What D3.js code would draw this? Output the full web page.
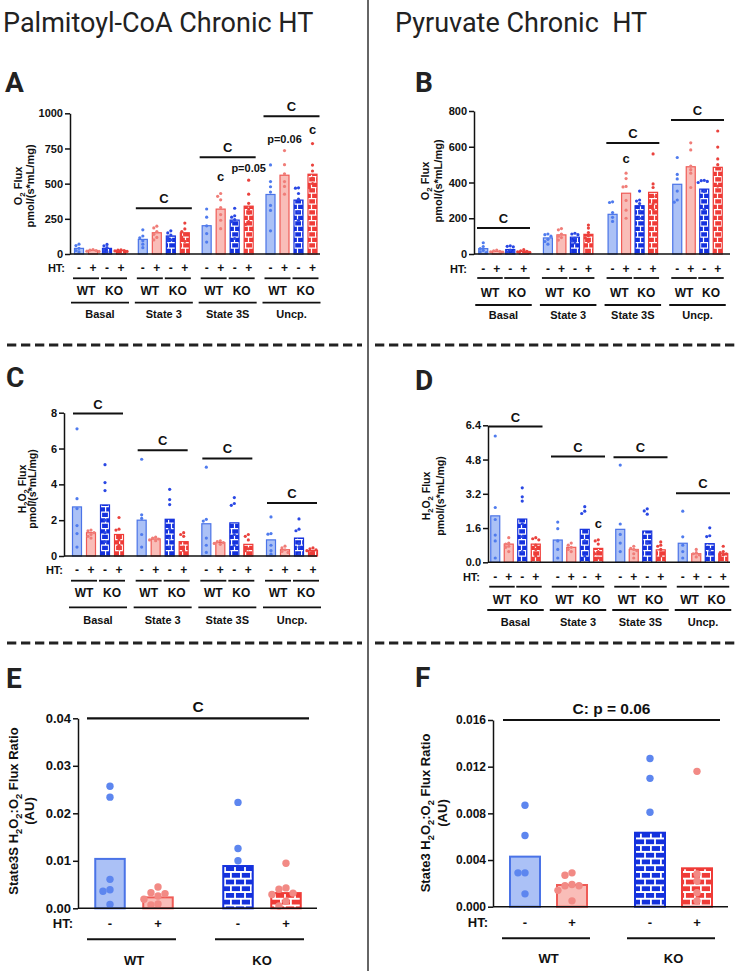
<!DOCTYPE html>
<html lang="en">
<head>
<meta charset="UTF-8">
<title>Chronic HT O2 / H2O2 flux</title>
<script src="https://d3js.org/d3.v7.min.js"></script>
<style>
  body { margin: 0; background: #fff; }
  svg { display: block; font-family: "Liberation Sans", Arial, sans-serif; }
  .hdr { font-family: Roboto, "Noto Sans", sans-serif; font-size: 27px; fill: #222; }
  .letter { font-family: Roboto, "Liberation Sans", sans-serif; font-weight: 700; font-size: 28px; fill: #222; }
  .b { font-weight: 700; fill: #111; }
</style>
</head>
<body>
<svg id="fig" width="740" height="971"></svg>
<script>
// ---- shared categories
const groups = ["Basal", "State 3", "State 3S", "Uncp."];
const conds = ["WT-", "WT+", "KO-", "KO+"];
const htSigns = ["-", "+", "-", "+"];
const genotypes = ["WT", "KO"];

// ---- A: O2 flux, palmitoyl-CoA (means per group x condition, then points)
const aMeans = [[40, 25, 40, 25], [104, 151, 128, 151], [201, 319, 241, 340], [423, 560, 383, 567]];
const aPoints = [
  [[70, 60, 40, 25, 15], [32, 28, 25, 20, 18], [68, 58, 45, 30, 15, 8], [30, 27, 24, 22, 18]],
  [[172, 128, 115, 95, 70, 45], [198, 185, 160, 140, 118, 100], [165, 150, 135, 118, 100, 95], [220, 178, 160, 140, 120, 90]],
  [[320, 262, 200, 145, 85], [430, 410, 385, 330, 280, 240, 180], [325, 272, 262, 245, 230, 110], [525, 425, 360, 320, 290, 230, 210]],
  [[633, 515, 478, 440, 345, 310, 165], [735, 635, 570, 515, 480, 425], [470, 468, 430, 390, 300, 240], [785, 632, 590, 540, 500, 455, 470]]
];
const aTicks = [0, 250, 500, 750, 1000];
const aSig = [{ g: "State 3", v: 326 }, { g: "State 3S", v: 688 }, { g: "Uncp.", v: 979 }];
const aMarks = [
  { g: "State 3S", c: "WT+", v: 520, t: "c" },
  { g: "State 3S", c: "KO+", v: 584, t: "p=0.05" },
  { g: "Uncp.", c: "WT+", v: 790, t: "p=0.06" },
  { g: "Uncp.", c: "KO+", v: 856, t: "c" }
];

// ---- B: O2 flux, pyruvate
const bMeans = [[30, 15, 25, 15], [90, 107, 94, 110], [222, 340, 270, 345], [390, 488, 363, 485]];
const bPoints = [
  [[63, 42, 30, 20, 12, 8], [22, 18, 15, 12, 10], [46, 43, 40, 22, 12, 8], [24, 18, 15, 12, 9]],
  [[112, 108, 100, 82, 70, 55], [142, 135, 112, 100, 92, 78], [116, 112, 108, 88, 72, 62], [162, 145, 120, 102, 90, 70]],
  [[292, 288, 232, 205, 182], [452, 422, 378, 375, 300, 245, 200], [352, 302, 296, 282, 240, 200], [560, 392, 372, 322, 280, 250]],
  [[540, 445, 420, 352, 302, 290], [622, 582, 492, 472, 452, 372], [412, 410, 406, 400, 350, 250], [688, 598, 532, 500, 420, 380]]
];
const bTicks = [0, 200, 400, 600, 800];
const bSig = [{ g: "Basal", v: 145 }, { g: "State 3S", v: 621 }, { g: "Uncp.", v: 749 }];
const bMarks = [{ g: "State 3S", c: "WT+", v: 507, t: "c" }];

// ---- C: H2O2 flux, palmitoyl-CoA
const cMeans = [[2.74, 1.3, 2.85, 1.2], [2.0, 0.95, 2.05, 0.8], [1.8, 0.75, 1.85, 0.65], [0.9, 0.35, 1.0, 0.3]];
const cPoints = [
  [[7.1, 3.2, 2.65, 1.7, 1.25, 0.5], [1.45, 1.4, 1.3, 1.2, 1.1, 1.0], [5.1, 4.1, 3.65, 2.0, 1.3, 0.8], [2.15, 1.5, 1.45, 0.9, 0.6, 0.4]],
  [[5.4, 2.3, 2.1, 1.2, 0.5], [1.05, 1.0, 0.95, 0.9, 0.85], [3.72, 3.15, 2.87, 1.5, 1.0, 0.5], [1.3, 1.2, 1.1, 0.5, 0.3]],
  [[4.96, 2.05, 1.95, 1.0, 0.6, 0.2], [0.85, 0.8, 0.75, 0.7, 0.65], [3.26, 2.93, 2.83, 1.2, 0.6], [1.2, 1.1, 0.9, 0.4, 0.3]],
  [[2.18, 1.25, 1.22, 0.6, 0.3, 0.1], [0.55, 0.45, 0.35, 0.25, 0.2], [2.07, 1.5, 1.41, 0.7, 0.5, 0.1], [0.45, 0.4, 0.35, 0.3, 0.25, 0.1]]
];
const cTicks = [0, 2, 4, 6, 8];
const cSig = [{ g: "Basal", v: 7.95 }, { g: "State 3", v: 5.9 }, { g: "State 3S", v: 5.45 }, { g: "Uncp.", v: 2.96 }];
const cMarks = [];

// ---- D: H2O2 flux, pyruvate
const dMeans = [[2.17, 0.85, 2.02, 0.85], [1.04, 0.7, 1.54, 0.65], [1.54, 0.6, 1.46, 0.58], [0.89, 0.4, 0.87, 0.4]];
const dPoints = [
  [[5.9, 2.56, 2.0, 1.27, 1.0, 0.2], [1.15, 0.9, 0.85, 0.75, 0.7, 0.5], [3.48, 3.06, 2.86, 1.8, 1.2, 0.5], [1.15, 1.1, 1.05, 0.8, 0.6, 0.3]],
  [[1.88, 1.57, 1.0, 0.6, 0.2], [0.9, 0.8, 0.7, 0.6, 0.5], [2.6, 2.39, 2.28, 1.0, 0.3], [1.05, 1.0, 0.85, 0.5, 0.4, 0.2]],
  [[4.54, 1.79, 1.3, 0.9, 0.5], [0.75, 0.65, 0.6, 0.55, 0.4, 0.2], [2.5, 2.4, 2.25, 0.9], [0.95, 0.8, 0.75, 0.6, 0.3, 0.2]],
  [[2.39, 1.19, 0.8, 0.5, 0.2], [0.6, 0.45, 0.4, 0.35, 0.25], [1.61, 1.24, 1.2, 0.6, 0.4], [0.75, 0.5, 0.45, 0.4, 0.35, 0.3]]
];
const dTicks = [0, 1.6, 3.2, 4.8, 6.4];
const dSig = [{ g: "Basal", v: 6.34 }, { g: "State 3", v: 4.94 }, { g: "State 3S", v: 4.91 }, { g: "Uncp.", v: 3.22 }];
const dMarks = [{ g: "State 3", c: "KO+", v: 1.58, t: "c" }];

// ---- E: State3S H2O2:O2 ratio, palmitoyl-CoA
const eMeans = [0.0104, 0.0023, 0.0089, 0.0032];
const ePoints = [
  [0.0257, 0.0234, 0.0061, 0.0039, 0.0036, 0.0008],
  [0.0045, 0.0033, 0.0031, 0.0026, 0.0019, 0.0009, 0.0007],
  [0.0223, 0.0126, 0.0100],
  [0.0095, 0.0043, 0.0040, 0.0032, 0.0029, 0.0015, 0.0005]
];
const eTicks = [0, 0.01, 0.02, 0.03, 0.04];

// ---- F: State3 H2O2:O2 ratio, pyruvate
const fMeans = [0.00429, 0.00186, 0.00634, 0.00329];
const fPoints = [
  [0.0087, 0.0061, 0.0029, 0.0029, 0.0011],
  [0.0029, 0.0027, 0.0019, 0.0018, 0.0018, 0.0014, 0.0005],
  [0.0127, 0.0110, 0.0081],
  [0.0116, 0.0028, 0.0022, 0.0012, 0.0005]
];
const fTicks = [0, 0.004, 0.008, 0.012, 0.016];

// ---------------------------------------------------------------
const svg = d3.select("#fig");

const colors = {
  "WT-": { fill: "#abc1f6", stroke: "#4a73e7", dot: "#4f7bee" },
  "WT+": { fill: "#f9bdb8", stroke: "#ef5b56", dot: "#f07d78" },
  "KO-": { fill: "#1431dd", stroke: "#1431dd", dot: "#2a48e4" },
  "KO+": { fill: "#ef3b37", stroke: "#ef3b37", dot: "#ea423d" }
};

const defs = svg.append("defs");
function brick(id, color, w, h, sw) {
  const p = defs.append("pattern").attr("id", id)
    .attr("patternUnits", "userSpaceOnUse").attr("width", w).attr("height", h * 2);
  p.append("rect").attr("width", w).attr("height", h * 2).attr("fill", color);
  p.append("path")
    .attr("d", `M0,${sw / 2}H${w}M0,${h + sw / 2}H${w}M${sw / 2},0V${h}M${w / 2},${h}V${2 * h}`)
    .attr("stroke", "#fff").attr("stroke-width", sw);
}
brick("sm-KO-", colors["KO-"].fill, 7, 5.5, 1.2);
brick("sm-KO+", colors["KO+"].fill, 7, 5.5, 1.2);
brick("lg-KO-", colors["KO-"].fill, 10, 6.7, 1.8);
brick("lg-KO+", colors["KO+"].fill, 10, 6.7, 1.8);

function barFill(c, size) {
  return c.startsWith("KO") ? `url(#${size}-${c})` : colors[c].fill;
}

// little beeswarm so dots with close values sit side by side
function swarm(values, y, r) {
  const placed = [];
  const offs = [0, -1, 1, -2, 2];
  return values.map(v => {
    const py = y(v);
    let best = 0;
    for (const o of offs) {
      const px = o * r * 1.9;
      if (placed.every(p => Math.hypot(p[0] - px, p[1] - py) >= r * 1.8)) { best = px; break; }
    }
    placed.push([best, py]);
    return { v, dx: best };
  });
}

// text with _2 style subscripts
function rich(sel, str, size) {
  const shift = size * 0.3;
  let down = false;
  str.split(/(_\d)/).filter(s => s).forEach(s => {
    if (s[0] === "_") {
      sel.append("tspan").attr("font-size", size * 0.72).attr("dy", down ? 0 : shift).text(s[1]);
      down = true;
    } else {
      sel.append("tspan").attr("dy", down ? -shift : 0).text(s);
      down = false;
    }
  });
}

function yLabel(lab) {
  [[lab.x1, lab.line1], [lab.x2, lab.line2]].forEach(([x, str]) => {
    const t = svg.append("text").attr("class", "b")
      .attr("transform", `translate(${x},${lab.yc}) rotate(-90)`)
      .attr("text-anchor", "middle").attr("font-size", lab.size);
    rich(t, str, lab.size);
  });
}

function yAxis(root, y, p) {
  root.append("g").attr("transform", `translate(${p.axisX[0]},0)`)
    .call(d3.axisLeft(y).tickValues(p.ticks).tickFormat(p.fmt)
      .tickSize(5).tickSizeOuter(0).tickPadding(2))
    .call(g => {
      g.attr("font-family", null).attr("font-size", p.tickFont).attr("font-weight", 700);
      g.selectAll("path, line").attr("stroke", "#111").attr("stroke-width", 1.5);
      g.selectAll("text").attr("fill", "#111");
    });
  root.append("line")
    .attr("x1", p.axisX[0]).attr("x2", p.axisX[1])
    .attr("y1", y(0)).attr("y2", y(0))
    .attr("stroke", "#111").attr("stroke-width", 1.5);
}

function hline(root, x1, x2, yy, w) {
  root.append("line").attr("x1", x1).attr("x2", x2).attr("y1", yy).attr("y2", yy)
    .attr("stroke", "#111").attr("stroke-width", w);
}

// ---- panels A-D: 4 groups x 4 conditions
function groupedPanel(p) {
  const root = svg.append("g");
  const y = d3.scaleLinear().domain(p.yDomain).range(p.yRange);
  const gx = d3.scalePoint().domain(groups).range(p.groupRange);
  const bx = d3.scalePoint().domain(conds).range([-1.5 * p.step, 1.5 * p.step]);
  const cx = (g, c) => gx(g) + bx(c);

  groups.forEach((g, gi) => {
    conds.forEach((c, ci) => {
      const m = p.means[gi][ci];
      root.append("rect")
        .attr("x", cx(g, c) - p.barW / 2).attr("width", p.barW)
        .attr("y", y(m)).attr("height", y(0) - y(m))
        .attr("fill", barFill(c, "sm"))
        .attr("stroke", colors[c].stroke).attr("stroke-width", 1.2);
    });
  });
  groups.forEach((g, gi) => {
    conds.forEach((c, ci) => {
      root.selectAll(null).data(swarm(p.points[gi][ci], y, 1.6)).join("circle")
        .attr("cx", d => cx(g, c) + d.dx).attr("cy", d => y(d.v)).attr("r", 1.6)
        .attr("fill", colors[c].dot);
    });
  });

  yAxis(root, y, p);

  // significance bars
  p.sig.forEach(s => {
    hline(root, gx(s.g) - p.sigHalf, gx(s.g) + p.sigHalf, y(s.v), 2);
    root.append("text").attr("class", "b").attr("font-size", 13).attr("text-anchor", "middle")
      .attr("x", gx(s.g)).attr("y", y(s.v) - 5).text("C");
  });
  p.marks.forEach(mk => {
    root.append("text").attr("class", "b").attr("text-anchor", "middle")
      .attr("font-size", mk.t === "c" ? 13 : 11)
      .attr("x", cx(mk.g, mk.c)).attr("y", y(mk.v)).text(mk.t);
  });

  // x labels
  const r = p.rows;
  root.append("text").attr("class", "b").attr("font-size", 11).attr("text-anchor", "end")
    .attr("x", r.htX).attr("y", r.ht).text("HT:");
  groups.forEach(g => {
    conds.forEach((c, ci) => {
      root.append("text").attr("class", "b").attr("font-size", 12).attr("text-anchor", "middle")
        .attr("x", cx(g, c)).attr("y", r.ht).text(htSigns[ci]);
    });
    genotypes.forEach((gt, k) => {
      const c1 = cx(g, conds[2 * k]), c2 = cx(g, conds[2 * k + 1]);
      hline(root, c1 - 6, c2 + 6, r.pair, 1.8);
      root.append("text").attr("class", "b").attr("font-size", 12).attr("text-anchor", "middle")
        .attr("x", (c1 + c2) / 2).attr("y", r.geno).text(gt);
    });
    hline(root, cx(g, conds[0]) - 8, cx(g, conds[3]) + 8, r.grp, 1.8);
    root.append("text").attr("class", "b").attr("font-size", 11).attr("text-anchor", "middle")
      .attr("x", gx(g)).attr("y", r.grpLabel).text(g);
  });

  yLabel(p.yLab);
}

// ---- panels E-F: 2 genotypes x HT
function ratioPanel(p) {
  const root = svg.append("g");
  const y = d3.scaleLinear().domain(p.yDomain).range(p.yRange);
  const gx = d3.scalePoint().domain(genotypes).range(p.pairRange);
  const hx = d3.scalePoint().domain(["-", "+"]).range([-p.half, p.half]);
  const cx = ci => gx(genotypes[ci >> 1]) + hx(htSigns[ci]);

  conds.forEach((c, ci) => {
    const m = p.means[ci];
    root.append("rect")
      .attr("x", cx(ci) - p.barW / 2).attr("width", p.barW)
      .attr("y", y(m)).attr("height", y(0) - y(m))
      .attr("fill", barFill(c, "lg"))
      .attr("stroke", colors[c].stroke).attr("stroke-width", 2);
  });
  conds.forEach((c, ci) => {
    root.selectAll(null).data(swarm(p.points[ci], y, 3.7)).join("circle")
      .attr("cx", d => cx(ci) + d.dx).attr("cy", d => y(d.v)).attr("r", 3.7)
      .attr("fill", c.endsWith("-") ? "#5d86ef" : "#f28a85");
  });

  yAxis(root, y, p);

  hline(root, p.sigX[0], p.sigX[1], y(p.sigV), 2.2);
  root.append("text").attr("class", "b").attr("font-size", 15.5).attr("text-anchor", "middle")
    .attr("x", (p.sigX[0] + p.sigX[1]) / 2).attr("y", y(p.sigV) - 6.5).text(p.sigText);

  const r = p.rows;
  root.append("text").attr("class", "b").attr("font-size", 13).attr("text-anchor", "end")
    .attr("x", r.htX).attr("y", r.ht).text("HT:");
  conds.forEach((c, ci) => {
    root.append("text").attr("class", "b").attr("font-size", 13).attr("text-anchor", "middle")
      .attr("x", cx(ci)).attr("y", r.ht).text(htSigns[ci]);
  });
  genotypes.forEach((gt, k) => {
    hline(root, cx(2 * k) - 23, cx(2 * k + 1) + 18, r.line, 2);
    root.append("text").attr("class", "b").attr("font-size", 13).attr("text-anchor", "middle")
      .attr("x", gx(gt)).attr("y", r.geno).text(gt);
  });

  yLabel(p.yLab);
}

// ---- page furniture
svg.append("text").attr("class", "hdr").attr("x", 3).attr("y", 32).text("Palmitoyl-CoA Chronic HT");
svg.append("text").attr("class", "hdr").attr("x", 395).attr("y", 32)
  .attr("xml:space", "preserve").style("white-space", "pre").text("Pyruvate Chronic  HT");
svg.append("line").attr("x1", 368).attr("x2", 368).attr("y1", 0).attr("y2", 971)
  .attr("stroke", "#333").attr("stroke-width", 1.5);
[345, 643].forEach(yy => {
  [[7, 362], [375, 735]].forEach(([a, b]) => {
    svg.append("line").attr("x1", a).attr("x2", b).attr("y1", yy).attr("y2", yy)
      .attr("stroke", "#222").attr("stroke-width", 3.2).attr("stroke-dasharray", "9.3 4.7");
  });
});
[["A", 5, 92], ["B", 415, 92], ["C", 6, 387], ["D", 415, 390], ["E", 6, 688], ["F", 415, 687]]
  .forEach(([t, x, yy]) => svg.append("text").attr("class", "letter").attr("x", x).attr("y", yy).text(t));

groupedPanel({
  means: aMeans, points: aPoints, ticks: aTicks, fmt: d3.format("d"), tickFont: 11,
  yDomain: [0, 1000], yRange: [254, 113.3], axisX: [70, 320],
  groupRange: [100, 291.5], step: 14, barW: 9, sig: aSig, marks: aMarks, sigHalf: 28,
  yLab: { x1: 22, x2: 34, yc: 186, size: 11, line1: "O_2 Flux", line2: "pmol/(s*mL/mg)" },
  rows: { ht: 272, pair: 278.3, geno: 295, grp: 302.7, grpLabel: 318, htX: 65 }
});
groupedPanel({
  means: bMeans, points: bPoints, ticks: bTicks, fmt: d3.format("d"), tickFont: 11,
  yDomain: [0, 800], yRange: [254, 111], axisX: [474, 730],
  groupRange: [503.5, 697.5], step: 13.5, barW: 9, sig: bSig, marks: bMarks, sigHalf: 26.5,
  yLab: { x1: 428.5, x2: 442, yc: 181, size: 11, line1: "O_2 Flux", line2: "pmol/(s*mL/mg)" },
  rows: { ht: 272.5, pair: 278, geno: 296.5, grp: 305, grpLabel: 319, htX: 467 }
});
groupedPanel({
  means: cMeans, points: cPoints, ticks: cTicks, fmt: d3.format("d"), tickFont: 11,
  yDomain: [0, 8], yRange: [556, 412.7], axisX: [64, 317],
  groupRange: [98, 292], step: 14, barW: 9, sig: cSig, marks: cMarks, sigHalf: 25,
  yLab: { x1: 25.5, x2: 35.5, yc: 489, size: 10.5, line1: "H_2O_2 Flux", line2: "pmol/(s*mL/mg)" },
  rows: { ht: 573.5, pair: 580.7, geno: 597, grp: 607.3, grpLabel: 624, htX: 63 }
});
groupedPanel({
  means: dMeans, points: dPoints, ticks: dTicks, fmt: d3.format(".1f"), tickFont: 11,
  yDomain: [0, 6.4], yRange: [562.3, 425.3], axisX: [488, 730],
  groupRange: [515.5, 703], step: 13.5, barW: 9, sig: dSig, marks: dMarks, sigHalf: 27,
  yLab: { x1: 430, x2: 444, yc: 496, size: 10.5, line1: "H_2O_2 Flux", line2: "pmol/(s*mL/mg)" },
  rows: { ht: 580.5, pair: 586.7, geno: 604, grp: 610, grpLabel: 625.5, htX: 480 }
});
ratioPanel({
  means: eMeans, points: ePoints, ticks: eTicks, fmt: d3.format(".2f"), tickFont: 13,
  yDomain: [0, 0.04], yRange: [908.3, 718.3], axisX: [78, 317],
  pairRange: [134, 262], half: 24, barW: 29.5,
  sigX: [87, 309], sigV: 0.04, sigText: "C",
  yLab: { x1: 18, x2: 34, yc: 811, size: 13, line1: "State3S H_2O_2:O_2 Flux Ratio", line2: "(AU)" },
  rows: { ht: 928, line: 939.3, geno: 965, htX: 73 }
});
ratioPanel({
  means: fMeans, points: fPoints, ticks: fTicks, fmt: d3.format(".3f"), tickFont: 12,
  yDomain: [0, 0.016], yRange: [906.7, 720], axisX: [493, 728],
  pairRange: [548.5, 673.5], half: 23.5, barW: 30,
  sigX: [503, 720], sigV: 0.016, sigText: "C: p = 0.06",
  yLab: { x1: 430, x2: 447, yc: 813, size: 13, line1: "State3 H_2O_2:O_2 Flux Ratio", line2: "(AU)" },
  rows: { ht: 927, line: 938.3, geno: 963, htX: 488 }
});
</script>
</body>
</html>
